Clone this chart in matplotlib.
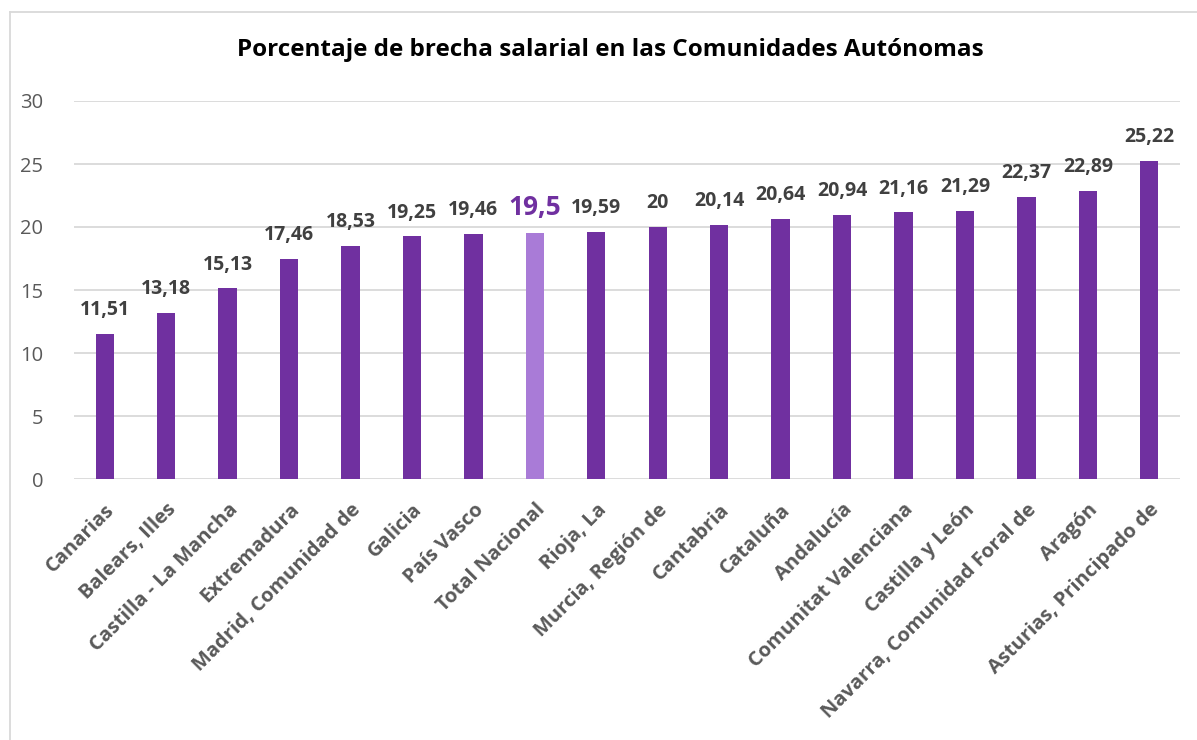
import matplotlib
matplotlib.use("Agg")
import matplotlib.pyplot as plt
from matplotlib.lines import Line2D

regions = ["Canarias", "Balears, Illes", "Castilla - La Mancha", "Extremadura",
           "Madrid, Comunidad de", "Galicia", "País Vasco", "Total Nacional",
           "Rioja, La", "Murcia, Región de", "Cantabria", "Cataluña", "Andalucía",
           "Comunitat Valenciana", "Castilla y León", "Navarra, Comunidad Foral de",
           "Aragón", "Asturias, Principado de"]
values = [11.51, 13.18, 15.13, 17.46, 18.53, 19.25, 19.46, 19.5, 19.59, 20, 20.14,
          20.64, 20.94, 21.16, 21.29, 22.37, 22.89, 25.22]
labels = ["11,51", "13,18", "15,13", "17,46", "18,53", "19,25", "19,46", "19,5",
          "19,59", "20", "20,14", "20,64", "20,94", "21,16", "21,29", "22,37",
          "22,89", "25,22"]
highlight = "Total Nacional"
title = "Porcentaje de brecha salarial en las Comunidades Autónomas"

plt.rcParams['font.family'] = ['Open Sans', 'DejaVu Sans']

fig = plt.figure(figsize=(11.97, 7.40), dpi=100)
ax = fig.add_axes([74/1197, 1-479/740, (1180-74)/1197, 378/740])

dark = "#7030A0"
light = "#A97BD7"
colors = [light if r == highlight else dark for r in regions]
x = list(range(len(regions)))
ax.bar(x, values, width=0.3, color=colors, zorder=3)

ax.set_xlim(-0.5, len(regions) - 0.5)
ax.set_ylim(0, 30)
ax.set_yticks(range(0, 31, 5))
ax.yaxis.grid(True, color="#D9D9D9", linewidth=1.3, zorder=0)
for s in ax.spines.values():
    s.set_visible(False)
ax.tick_params(axis='y', length=0, pad=22, labelsize=14.5, labelcolor="#595959")
ax.tick_params(axis='x', length=0, pad=15)
ax.set_xticks(x)
ax.set_xticklabels(regions, rotation=45, ha='right', rotation_mode='anchor',
                   fontsize=14.5, fontweight='bold', color="#595959")

for xi, v, lab, r in zip(x, values, labels, regions):
    if r == highlight:
        ax.text(xi, v + 1.0, lab, ha='center', va='bottom', fontsize=19,
                fontweight='bold', color=dark)
    else:
        ax.text(xi, v + 1.1, lab, ha='center', va='bottom', fontsize=14,
                fontweight='bold', color="#404040")

fig.text(610/1197, 1-50/740, title, ha='center', va='center', fontsize=17.5,
         fontweight='bold', color="black")

# chart border (left and top)
fig.add_artist(Line2D([10/1197, 10/1197], [0, 1-12/740], transform=fig.transFigure,
                      color="#D9D9D9", linewidth=1.3))
fig.add_artist(Line2D([10/1197, 1], [1-12/740, 1-12/740], transform=fig.transFigure,
                      color="#D9D9D9", linewidth=1.3))

fig.savefig("out.png", dpi=100)
